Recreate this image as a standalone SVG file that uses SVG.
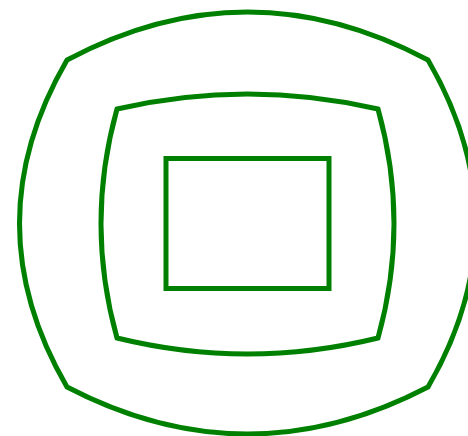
<svg xmlns="http://www.w3.org/2000/svg" width="468" height="436" viewBox="0 0 468 436">
<style>
.s{fill:none;stroke:#008000;stroke-width:5;stroke-linejoin:miter}
</style>
<rect width="468" height="436" fill="#fff"/>
<g id="outer"><path class="s" d="M67,60 Q247.5,-36 428,60 Q523,223.5 428,387 Q247.5,481 67,387 Q-28,223.5 67,60 Z"/></g>
<g id="middle"><path class="s" d="M117,109 Q247.5,79 378,109 Q410,223.5 378,338 Q247.5,370 117,338 Q85,223.5 117,109 Z"/></g>
<g id="inner"><rect class="s" x="166" y="158.5" width="163" height="130"/></g>
<g id="connectors"></g>
</svg>
